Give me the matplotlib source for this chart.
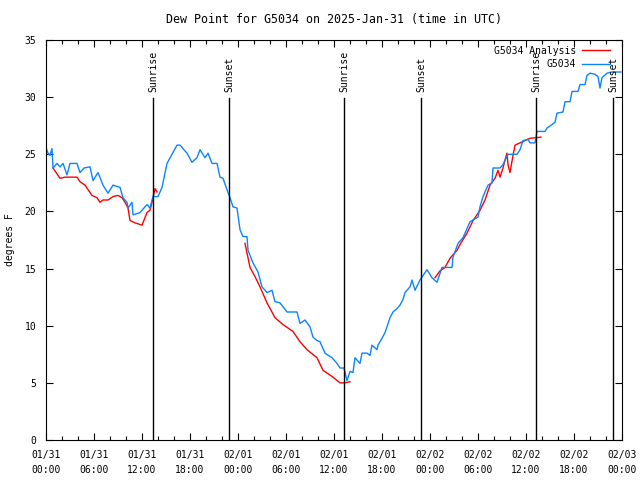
"""Dew point for G5034, observed vs analysis, with sunrise/sunset markers."""
import matplotlib

matplotlib.use("Agg")
import matplotlib.pyplot as plt
import matplotlib.dates as mdates
import numpy as np
import pandas as pd

START = pd.Timestamp("2025-01-31 00:00")

# observed dew point (hours since 01/31 00:00 UTC, degrees F)
obs_hours = [0, 0.25, 0.5, 0.75, 0.875, 1.375, 1.75, 2.125, 2.625, 3, 3.875, 4.25,
             4.75, 5.5, 5.875, 6.5, 7.125, 7.75, 8.375, 9.25, 9.625, 10.125, 10.25,
             10.75, 10.875, 11.75, 12.625, 13, 13.375, 14, 14.5, 15.125, 15.75,
             16.375, 16.75, 17.625, 18.25, 18.875, 19.25, 19.875, 20.25, 20.75,
             21.375, 21.75, 22.125, 22.625, 23, 23.375, 23.875, 24.25, 24.625,
             25.125, 25.25, 25.875, 26.5, 27, 27.625, 28.25, 28.625, 29.25, 30.125,
             31.375, 31.75, 32.375, 33, 33.375, 33.875, 34.25, 34.875, 35.75,
             36.375, 36.75, 37.25, 37.625, 38, 38.375, 38.625, 39.25, 39.5, 40.125,
             40.5, 40.75, 41.375, 41.5, 42, 42.375, 42.625, 43, 43.375, 43.875,
             44.25, 44.625, 44.875, 45.5, 45.75, 46.125, 46.75, 47.625, 48.25,
             48.875, 49.5, 50.75, 50.875, 51.5, 52.125, 53, 54, 54.25, 54.625,
             55.25, 55.75, 55.875, 56.75, 57.125, 57.75, 58.875, 59.25, 59.625,
             60.25, 60.5, 61.125, 61.375, 62.375, 62.625, 63.25, 63.625, 63.875,
             64.625, 64.875, 65.5, 65.75, 66.5, 66.75, 67.375, 67.625, 68, 68.625,
             69, 69.25, 69.5, 70.125, 70.75, 71.875]
obs_vals = [25.6, 25.1, 24.9, 25.5, 23.8, 24.2, 23.9, 24.2, 23.2, 24.2, 24.2, 23.4,
            23.8, 23.9, 22.7, 23.4, 22.3, 21.6, 22.3, 22.1, 21.2, 20.8, 20.3,
            20.8, 19.7, 19.9, 20.6, 20.3, 21.3, 21.3, 22.1, 24.2, 25.0,
            25.8, 25.8, 25.1, 24.3, 24.7, 25.4, 24.7, 25.1, 24.2,
            24.2, 23.0, 22.9, 21.9, 21.2, 20.4, 20.3, 18.4, 17.8,
            17.8, 16.6, 15.5, 14.7, 13.4, 12.9, 13.1, 12.1, 12.0, 11.2,
            11.2, 10.2, 10.5, 9.9, 9.0, 8.7, 8.6, 7.6, 7.2,
            6.7, 6.3, 6.3, 5.2, 6.0, 5.9, 7.2, 6.7, 7.6, 7.6,
            7.4, 8.3, 7.9, 8.3, 8.9, 9.4, 9.9, 10.7, 11.2, 11.5,
            11.8, 12.3, 12.9, 13.4, 14.0, 13.1, 14.0, 14.9, 14.2,
            13.8, 15.1, 15.1, 16.0, 17.2, 17.7, 19.1, 19.5, 20.4, 21.3,
            22.3, 22.5, 23.8, 23.8, 24.1, 25.0, 25.0, 25.4, 26.2,
            26.3, 26.0, 26.0, 27.0, 27.0, 27.3, 27.6, 27.8, 28.6,
            28.7, 29.6, 29.6, 30.5, 30.5, 31.1, 31.1, 31.9, 32.1, 32.0,
            31.8, 30.8, 31.7, 32.1, 32.2, 32.2]

# analysis dew point (NaN = no analysis shown)
ana_hours = [0.875, 1.75, 2.375, 3.875, 4.25, 4.875, 5.75, 6.375, 6.75, 7.125, 7.75,
             8.375, 9, 9.5, 9.875, 10.25, 10.5, 11.125, 12, 12.625, 13, 13.25,
             13.625, 13.875, 19.0,
             24.875, 25.5, 26.125, 26.75, 27.625, 28.625, 29.625, 30.875, 31.75,
             32.625, 33.875, 34.625, 35.875, 36.75, 37.375, 38, 43.0,
             48.625, 49.25, 49.875, 50.5, 51.375, 51.75, 52.625, 53.375, 54.25,
             54.875, 55.5, 56.125, 56.5, 56.75, 57.125, 57.375, 57.625, 57.75, 58,
             58.375, 58.625, 59.25, 60.5, 61.875]
ana_vals = [23.8, 22.9, 23.0, 23.0, 22.6, 22.3, 21.4, 21.2, 20.8, 21.0, 21.0,
            21.3, 21.4, 21.2, 20.8, 20.3, 19.2, 19.0, 18.8, 19.9, 20.1, 20.8,
            22.0, 21.7, np.nan,
            17.2, 15.1, 14.3, 13.4, 12.0, 10.7, 10.1, 9.5, 8.6,
            7.9, 7.2, 6.1, 5.5, 5.0, 5.0, 5.1, np.nan,
            14.2, 14.8, 15.1, 15.9, 16.6, 17.1, 18.1, 19.2, 20.1,
            21.0, 22.3, 22.9, 23.6, 23.0, 23.8, 24.5, 25.1, 24.1, 23.4,
            24.9, 25.8, 26.0, 26.4, 26.5]

# sunrise / sunset (hours since start)
sun_hours = [13.42, 22.92, 37.29, 46.92, 61.29, 70.92]
sun_labels = ["Sunrise", "Sunset", "Sunrise", "Sunset", "Sunrise", "Sunset"]

to_time = lambda hrs: START + pd.to_timedelta(hrs, unit="h")

plt.rcParams["font.family"] = ["DejaVu Sans Mono"]
plt.rcParams["font.size"] = 7

fig = plt.figure(figsize=(6.4, 4.8), dpi=100)
ax = fig.add_axes([46 / 640, 40 / 480, 576 / 640, 400 / 480])

ax.plot(to_time(ana_hours), ana_vals, color="#ff0000", lw=1.0, label="G5034 Analysis")
ax.plot(to_time(obs_hours), obs_vals, color="#0a84ff", lw=1.0, label="G5034")

for h, lab in zip(sun_hours, sun_labels):
    t = to_time(h)
    ax.plot([t, t], [0, 29.9], color="black", lw=1.0)
    ax.text(t, 30.45, lab, rotation=90, ha="center", va="bottom")

ax.set_xlim(START, to_time(72))
ax.set_ylim(0, 35)
ax.set_yticks(range(0, 36, 5))
ax.xaxis.set_major_locator(mdates.HourLocator(byhour=range(0, 24, 6)))
ax.xaxis.set_minor_locator(mdates.HourLocator(interval=2))
ax.xaxis.set_major_formatter(mdates.DateFormatter("%m/%d\n%H:%M"))
ax.tick_params(which="both", direction="in", top=True, right=True, width=0.8)
ax.tick_params(which="major", length=5)
ax.tick_params(which="minor", length=3)
ax.tick_params(axis="x", pad=7)
ax.tick_params(axis="y", pad=7)
for lbl in ax.get_xticklabels():
    lbl.set_linespacing(1.7)
for s in ax.spines.values():
    s.set_linewidth(0.8)

ax.set_ylabel("degrees F", labelpad=7)
ax.set_title("Dew Point for G5034 on 2025-Jan-31 (time in UTC)", pad=12)

ax.legend(loc="upper right", bbox_to_anchor=(0.986, 0.995), borderaxespad=0,
          frameon=False, markerfirst=False, handlelength=2.9,
          handletextpad=0.6, labelspacing=0.35)

fig.savefig("out.png", dpi=100)
